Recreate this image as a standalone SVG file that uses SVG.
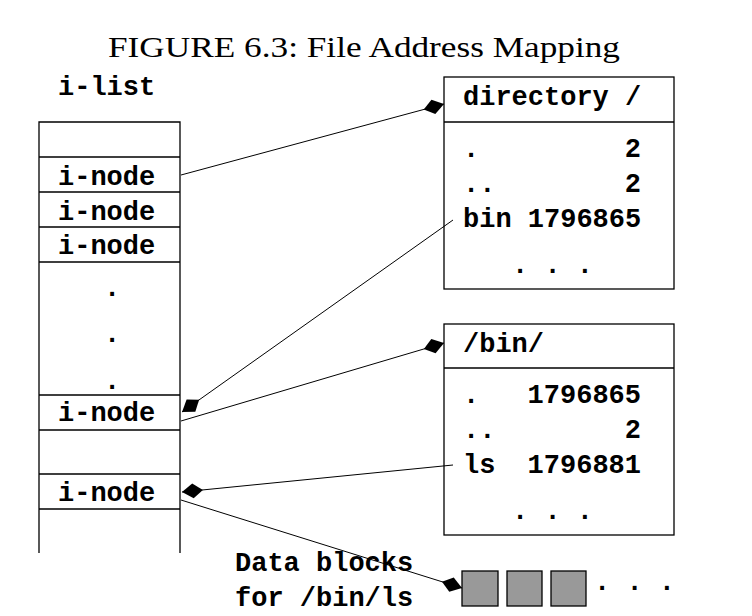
<svg xmlns="http://www.w3.org/2000/svg" width="752" height="616" viewBox="0 0 752 616">
<style>
.m{font-family:"Liberation Mono","DejaVu Sans Mono",monospace;font-weight:bold;font-size:27px;fill:#000}
.t{font-family:"Liberation Serif","DejaVu Serif",serif;font-size:30px;fill:#000}
.b{fill:#fff;stroke:#000;stroke-width:1.3}
.l{stroke:#000;stroke-width:1.3;fill:none}
.c{stroke:#000;stroke-width:1;fill:none;marker-end:url(#ah)}
.g{fill:#999;stroke:#000;stroke-width:1.3}
</style>
<defs>
<marker id="ah" markerUnits="userSpaceOnUse" viewBox="-24 -10 26 20" markerWidth="26" markerHeight="20" refX="0" refY="0" orient="auto">
<path d="M0,0 L-11,-7.5 L-21,0 L-11,7.5 Z" fill="#000"/>
</marker>
</defs>
<rect width="752" height="616" fill="#fff"/>
<text class="t" x="364" y="57" text-anchor="middle" textLength="512" lengthAdjust="spacingAndGlyphs">FIGURE 6.3: File Address Mapping</text>

<g id="ilist">
<text class="m" x="58" y="95">i-list</text>
<path class="l" d="M39,553 V122 H180 V553 M39,157 H180 M39,192 H180 M39,227 H180 M39,262 H180 M39,395 H180 M39,430 H180 M39,474 H180 M39,509 H180"/>
<text class="m" x="58" y="185">i-node</text>
<text class="m" x="58" y="220">i-node</text>
<text class="m" x="58" y="254">i-node</text>
<text class="m" x="112" y="296" text-anchor="middle">.</text>
<text class="m" x="112" y="342" text-anchor="middle">.</text>
<text class="m" x="112" y="389" text-anchor="middle">.</text>
<text class="m" x="58" y="421">i-node</text>
<text class="m" x="58" y="501">i-node</text>
</g>

<g id="dir-root">
<rect class="b" x="444" y="77" width="230" height="212"/>
<line class="l" x1="444" y1="122" x2="674" y2="122"/>
<text class="m" x="463" y="105">directory /</text>
<text class="m" x="463" y="157">.</text>
<text class="m" x="641" y="157" text-anchor="end">2</text>
<text class="m" x="463" y="192">..</text>
<text class="m" x="641" y="192" text-anchor="end">2</text>
<text class="m" x="463" y="227">bin 1796865</text>
<text class="m" x="512" y="273" xml:space="preserve">. . .</text>
</g>

<g id="dir-bin">
<rect class="b" x="444" y="324" width="230" height="211"/>
<line class="l" x1="444" y1="368" x2="674" y2="368"/>
<text class="m" x="463" y="352">/bin/</text>
<text class="m" x="463" y="403">.</text>
<text class="m" x="641" y="403" text-anchor="end">1796865</text>
<text class="m" x="463" y="438">..</text>
<text class="m" x="641" y="438" text-anchor="end">2</text>
<text class="m" x="463" y="473">ls</text>
<text class="m" x="641" y="473" text-anchor="end">1796881</text>
<text class="m" x="512" y="519" xml:space="preserve">. . .</text>
</g>

<g id="datablocks">
<text class="m" x="235" y="571">Data blocks</text>
<text class="m" x="235" y="606">for /bin/ls</text>
<rect class="g" x="462" y="571" width="36" height="35"/>
<rect class="g" x="507" y="571" width="35" height="35"/>
<rect class="g" x="551" y="571" width="35" height="35"/>
<text class="m" x="594" y="590" xml:space="preserve">. . .</text>
</g>

<g id="connectors">
<line class="c" x1="181" y1="175" x2="444" y2="104"/>
<line class="c" x1="453" y1="220" x2="182" y2="412"/>
<line class="c" x1="181" y1="421" x2="444" y2="343"/>
<line class="c" x1="453" y1="465" x2="182" y2="492"/>
<line class="c" x1="181" y1="500" x2="462" y2="588"/>
</g>
</svg>
